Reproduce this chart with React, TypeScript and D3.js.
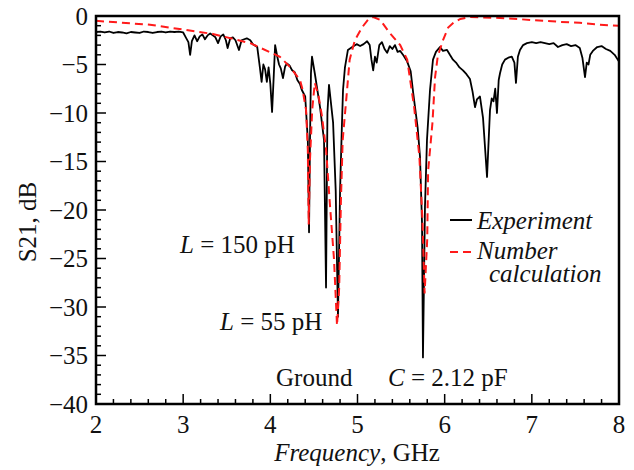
import React from "react";
import * as d3 from "d3";

// measured S21 (GHz, dB)
const expFreq = [
  2.0, 2.05, 2.1, 2.15, 2.2, 2.25, 2.3, 2.35, 2.4, 2.45, 2.5, 2.55, 2.6, 2.65, 2.7, 2.75, 2.8, 2.85, 2.9, 2.95,
  3.0, 3.03, 3.06, 3.08, 3.1, 3.13, 3.16, 3.19, 3.22, 3.25, 3.28, 3.31, 3.34, 3.37, 3.4, 3.43, 3.46, 3.49, 3.51,
  3.54, 3.57, 3.6, 3.64, 3.67, 3.7, 3.73, 3.77, 3.8, 3.85, 3.88, 3.9, 3.92, 3.94, 3.96, 3.98, 4.0, 4.02, 4.04,
  4.055, 4.08, 4.1, 4.12, 4.145, 4.17, 4.19, 4.22, 4.25, 4.28, 4.31, 4.34, 4.36, 4.4, 4.43, 4.444, 4.455, 4.466,
  4.478, 4.51, 4.57, 4.616, 4.639, 4.655, 4.673, 4.72, 4.75, 4.776, 4.8, 4.822, 4.834, 4.856, 4.89, 4.94, 4.99,
  5.03, 5.07, 5.11, 5.14, 5.16, 5.18, 5.2, 5.22, 5.25, 5.28, 5.31, 5.34, 5.37, 5.4, 5.43, 5.46, 5.49, 5.53, 5.57,
  5.61, 5.64, 5.66, 5.69, 5.717, 5.74, 5.751, 5.774, 5.797, 5.832, 5.866, 5.9, 5.946, 5.98, 6.027, 6.06, 6.095,
  6.13, 6.17, 6.21, 6.25, 6.29, 6.32, 6.348, 6.37, 6.405, 6.44, 6.486, 6.52, 6.54, 6.56, 6.58, 6.6, 6.62, 6.635,
  6.66, 6.692, 6.73, 6.77, 6.8, 6.818, 6.84, 6.864, 6.9, 6.944, 7.0, 7.05, 7.1, 7.15, 7.2, 7.25, 7.3, 7.35, 7.4,
  7.45, 7.5, 7.55, 7.58, 7.61, 7.63, 7.65, 7.67, 7.7, 7.75, 7.8, 7.85, 7.9, 7.95, 8.0,
];
const expDb = [
  -1.65, -1.6, -1.7, -1.6, -1.75, -1.65, -1.7, -1.8, -1.65, -1.7, -1.75, -1.6, -1.65, -1.75, -1.65, -1.6, -1.7, -1.6, -1.65, -1.6,
  -1.7, -2.2, -2.7, -4.0, -2.6, -2.0, -2.6, -2.1, -1.9, -2.4, -2.0, -1.8, -2.0, -2.2, -2.8, -2.1, -1.9, -2.5, -3.3,
  -2.3, -2.2, -2.5, -3.5, -2.5, -2.4, -2.3, -2.5, -2.9, -3.2, -5.3, -6.8, -5.0, -5.5, -6.8, -5.3, -7.0, -9.9, -6.0,
  -3.0, -4.2, -5.0, -5.4, -6.4, -5.2, -4.9, -5.1, -5.6, -5.8, -6.6, -7.0, -7.6, -8.3, -12.8, -22.3, -12.8, -5.9,
  -4.2, -5.9, -9.4, -12.8, -28.0, -10.0, -7.1, -11.0, -18.0, -31.0, -18.0, -11.0, -7.6, -5.3, -3.5, -3.2, -2.9,
  -3.1, -2.9, -2.6, -3.0, -4.5, -5.6, -4.2, -4.8, -3.0, -2.7, -3.4, -3.8, -3.1, -3.4, -3.0, -3.7, -3.6, -4.1, -4.7,
  -5.7, -8.0, -9.4, -11.5, -14.5, -21.3, -35.2, -19.7, -12.8, -7.6, -4.5, -3.7, -3.2, -3.6, -3.5, -4.0, -4.5,
  -4.8, -5.3, -5.6, -6.0, -6.5, -7.8, -9.4, -8.6, -8.3, -10.5, -16.6, -9.7, -8.5, -8.8, -7.5, -10.0, -6.6, -5.9,
  -5.0, -4.5, -4.3, -4.2, -4.8, -6.9, -4.2, -3.5, -3.0, -2.8, -2.7, -2.8, -2.7, -2.8, -2.9, -2.8, -3.2, -3.0, -2.9,
  -3.1, -3.0, -3.3, -4.3, -6.3, -4.8, -5.0, -4.0, -3.6, -3.2, -3.1, -3.4, -3.6, -4.0, -4.7,
];

// numerical calculation
const calcFreq = [
  2.0, 2.62, 3.34, 3.77, 4.11, 4.23, 4.34, 4.37, 4.41, 4.43, 4.44, 4.455, 4.48, 4.51, 4.55, 4.59, 4.64, 4.68,
  4.73, 4.765, 4.79, 4.81, 4.83, 4.87, 4.91, 4.97, 5.05, 5.12, 5.18, 5.26, 5.37, 5.49, 5.57, 5.65, 5.71, 5.745,
  5.77, 5.8, 5.81, 5.86, 5.89, 5.92, 5.98, 6.04, 6.1, 6.18, 6.29, 6.63, 6.98, 7.32, 7.55, 7.78, 8.0,
];
const calcDb = [
  -0.5, -0.9, -1.85, -2.8, -4.2, -5.3, -6.6, -7.6, -9.7, -13.8, -21.5, -14.8, -9.7, -6.9, -8.1, -10.2, -13.8, -19,
  -25, -31.9, -28, -19, -12.8, -8.7, -4.5, -2.5, -1.2, -0.4, -0.1, -0.4, -1.75, -3.0, -4.5, -9.4, -14.5, -21,
  -28.6, -23, -16, -11, -6.3, -4.2, -2.5, -1.2, -0.7, -0.3, -0.1, -0.2, -0.4, -0.6, -0.7, -0.9, -1.0,
];

const xTicks = [2, 3, 4, 5, 6, 7, 8];
const yTicks = [0, -5, -10, -15, -20, -25, -30, -35, -40];

const W = 634;
const H = 470;
const left = 96, right = 619, top = 16, bottom = 404;
const serif =
  "'Liberation Serif', 'Times New Roman', Times, 'Nimbus Roman', 'Nimbus Roman No9 L', Tinos, 'DejaVu Serif', 'Noto Serif', FreeSerif, serif";
const txt = { fontFamily: serif, fontSize: 25, fill: "#111" };
const itxt = { ...txt, fontStyle: "italic" as const };

export default function App() {
  const x = d3.scaleLinear().domain([2, 8]).range([left, right]);
  const y = d3.scaleLinear().domain([-40, 0]).range([bottom, top]);
  const line = d3
    .line<[number, number]>()
    .x((d) => x(d[0]))
    .y((d) => y(d[1]));
  const expPath = line(expFreq.map((f, i) => [f, expDb[i]]) as [number, number][]) || "";
  const calcPath = line(calcFreq.map((f, i) => [f, calcDb[i]]) as [number, number][]) || "";

  const xMinor = d3.range(2, 8.001, 0.2);
  const yMinor = d3.range(-40, 0.001, 1);
  const minus = (v: number) => (v < 0 ? "\u2212" + Math.abs(v) : String(v));

  return (
    <svg
      width={W}
      height={H}
      style={{ position: "absolute", left: 0, top: 0, background: "#fff", fontFamily: serif }}
    >
      <defs>
        <clipPath id="plot">
          <rect x={left} y={top} width={right - left} height={bottom - top} />
        </clipPath>
      </defs>
      <g clipPath="url(#plot)">
        <path d={expPath} fill="none" stroke="#000" strokeWidth={1.8} strokeLinejoin="round" />
        <path d={calcPath} fill="none" stroke="#ff1a1a" strokeWidth={2} strokeDasharray="8,5" />
      </g>

      {/* ticks */}
      {xMinor.map((v, i) => (
        <line key={"xm" + i} x1={x(v)} x2={x(v)} y1={bottom} y2={bottom - (i % 5 === 0 ? 10 : 5)} stroke="#000" strokeWidth={1.5} />
      ))}
      {yMinor.map((v, i) => (
        <line key={"ym" + i} x1={left} x2={left + (i % 5 === 0 ? 10 : 5)} y1={y(v)} y2={y(v)} stroke="#000" strokeWidth={1.5} />
      ))}
      <rect x={left} y={top} width={right - left} height={bottom - top} fill="none" stroke="#000" strokeWidth={2.5} />

      {xTicks.map((v) => (
        <text key={"xt" + v} x={x(v)} y={433} textAnchor="middle" style={txt}>
          {v}
        </text>
      ))}
      {yTicks.map((v) => (
        <text key={"yt" + v} x={88} y={y(v)} dy="0.35em" textAnchor="end" style={txt}>
          {minus(v)}
        </text>
      ))}

      <text x={357} y={461} textAnchor="middle" style={txt}>
        <tspan style={itxt}>Frequency</tspan>, GHz
      </text>
      <text transform="translate(36,222) rotate(-90)" textAnchor="middle" style={txt}>
        S21, dB
      </text>

      {/* annotations */}
      <text x={180} y={253} style={txt}>
        <tspan style={itxt}>L</tspan> = 150 pH
      </text>
      <text x={220} y={330} style={txt}>
        <tspan style={itxt}>L</tspan> = 55 pH
      </text>
      <text x={276} y={386} style={txt}>
        Ground
      </text>
      <text x={388} y={386} style={txt}>
        <tspan style={itxt}>C</tspan> = 2.12 pF
      </text>

      {/* legend */}
      <line x1={450} x2={472} y1={220} y2={220} stroke="#000" strokeWidth={2} />
      <text x={477} y={229} style={itxt}>
        Experiment
      </text>
      <line x1={450} x2={472} y1={252} y2={252} stroke="#ff1a1a" strokeWidth={2} strokeDasharray="8,5" />
      <text x={477} y={259} style={itxt}>
        Number
      </text>
      <text x={489} y={282} style={itxt}>
        calculation
      </text>
    </svg>
  );
}
